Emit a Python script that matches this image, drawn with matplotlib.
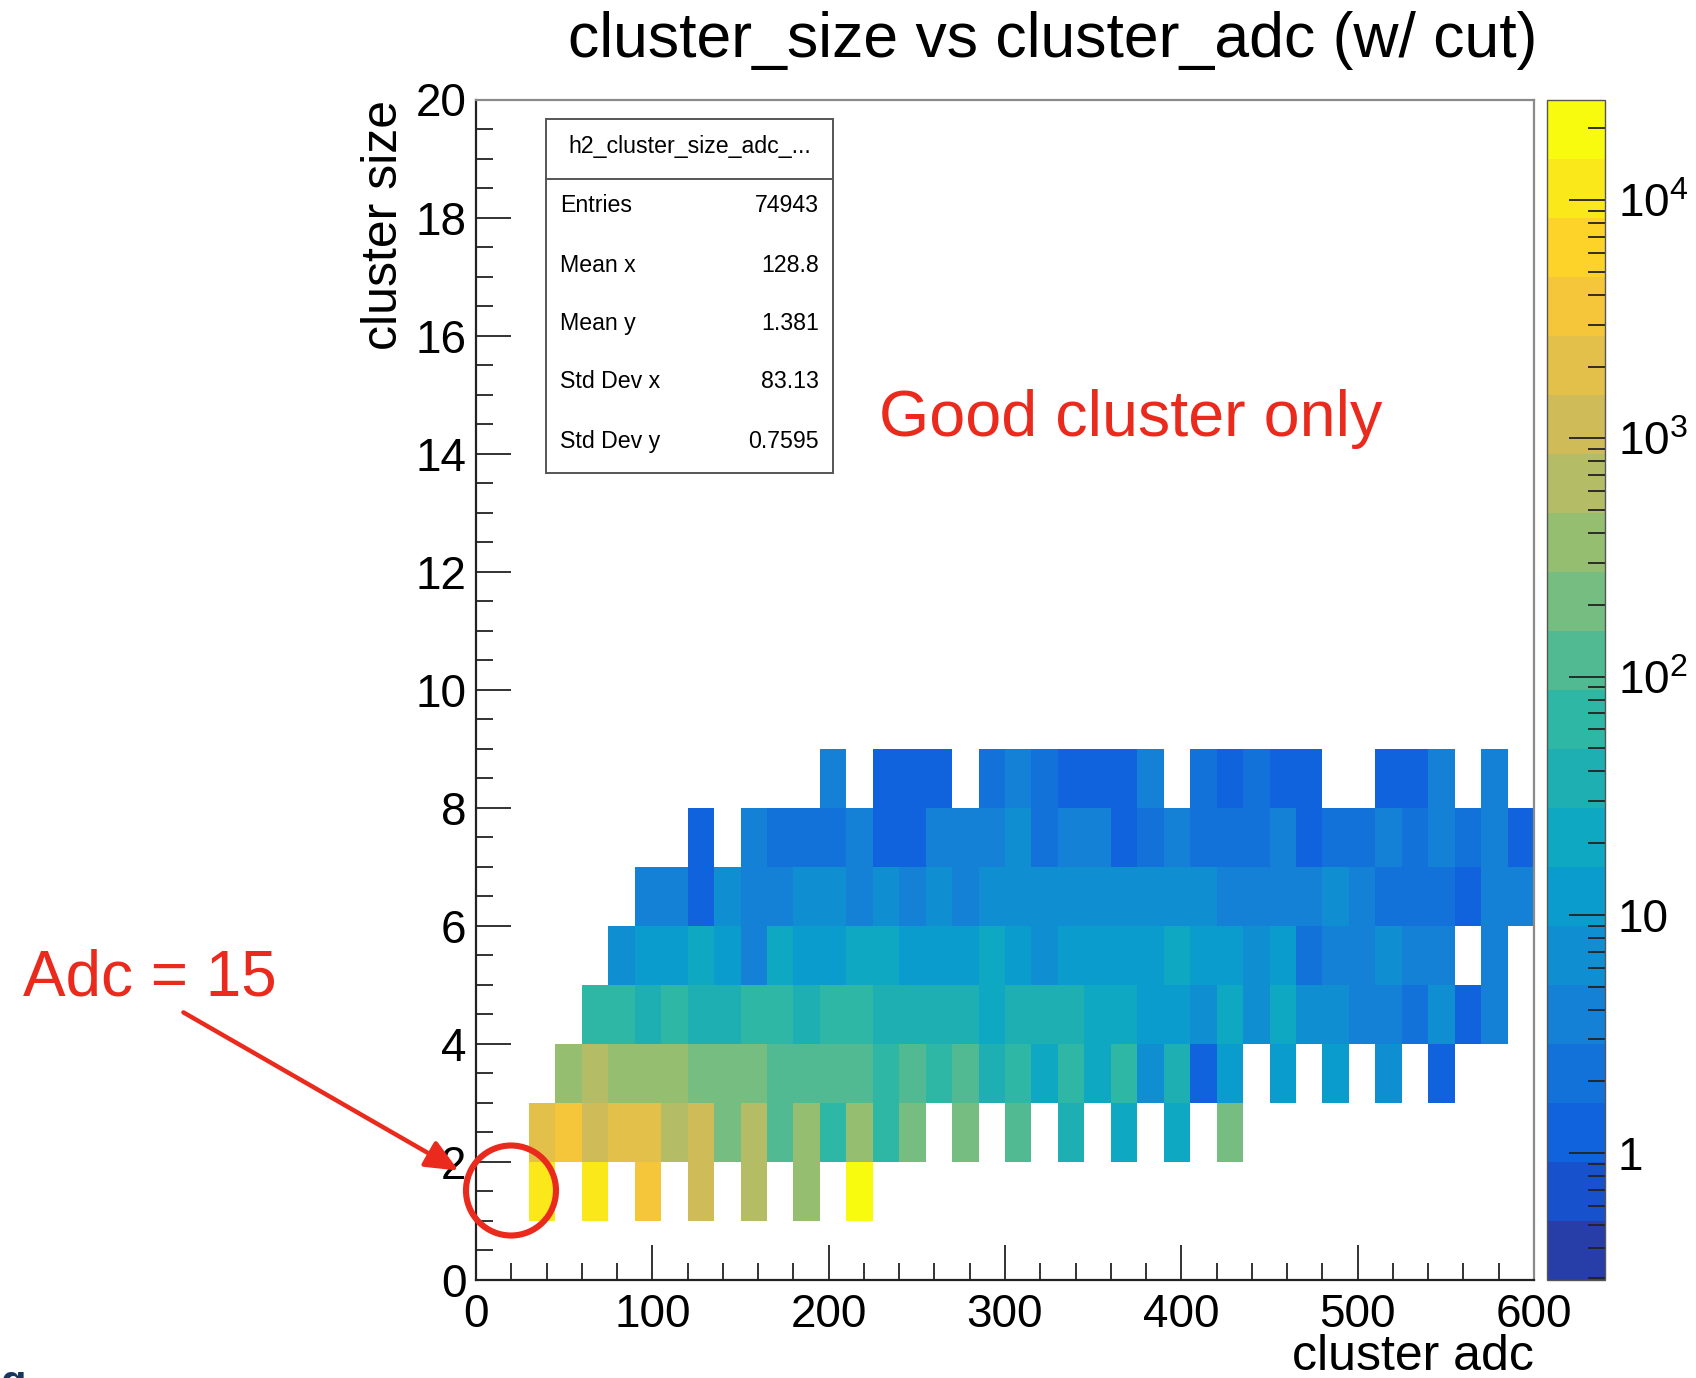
import numpy as np
import matplotlib
matplotlib.use("Agg")
import matplotlib.pyplot as plt
from matplotlib.colors import LinearSegmentedColormap, ListedColormap, LogNorm
from matplotlib.patches import Rectangle, Ellipse, FancyArrowPatch
from matplotlib.lines import Line2D
from matplotlib.ticker import MultipleLocator, LogLocator, NullFormatter

plt.rcParams['font.family'] = ['Liberation Sans', 'DejaVu Sans']
plt.rcParams['mathtext.fontset'] = 'custom'
plt.rcParams['mathtext.rm'] = 'Liberation Sans'

# binning: 40 adc bins of width 15, cluster size bins of width 1
adc_edges = np.arange(0, 601, 15)
size_edges = np.arange(0, 21, 1)

# bin contents per cluster size, 40 adc bins each
size1 = [0, 0, 12000, 0, 12000, 0, 4000, 0, 1200, 0, 700, 0, 400, 0, 22000, 0, 0, 0, 0, 0,
         0, 0, 0, 0, 0, 0, 0, 0, 0, 0, 0, 0, 0, 0, 0, 0, 0, 0, 0, 0]
size2 = [0, 0, 2200, 4000, 1200, 2200, 2200, 700, 1200, 220, 700, 120, 400, 70, 400, 70, 220, 0, 220, 0,
         120, 0, 40, 0, 22, 0, 22, 0, 220, 0, 0, 0, 0, 0, 0, 0, 0, 0, 0, 0]
size3 = [0, 0, 0, 400, 700, 400, 400, 400, 220, 220, 220, 120, 120, 120, 120, 70, 120, 70, 120, 40,
         70, 22, 70, 22, 70, 7, 40, 1, 12, 0, 12, 0, 12, 0, 7, 0, 1, 0, 0, 0]
size4 = [0, 0, 0, 0, 70, 70, 40, 70, 40, 40, 70, 70, 40, 70, 70, 40, 40, 40, 40, 22,
         40, 40, 40, 22, 22, 12, 12, 7, 22, 7, 22, 7, 7, 4, 4, 2, 7, 1, 4, 0]
size5 = [0, 0, 0, 0, 0, 7, 12, 12, 22, 12, 4, 22, 12, 12, 22, 22, 12, 12, 12, 22,
         12, 7, 12, 12, 12, 12, 22, 12, 12, 7, 12, 2, 4, 4, 7, 4, 4, 0, 4, 0]
size6 = [0, 0, 0, 0, 0, 0, 4, 4, 1, 7, 4, 4, 7, 7, 4, 7, 4, 7, 4, 7,
         7, 7, 7, 7, 7, 7, 7, 7, 4, 4, 4, 4, 7, 4, 2, 2, 2, 1, 4, 4]
size7 = [0, 0, 0, 0, 0, 0, 0, 0, 1, 0, 4, 2, 2, 2, 4, 1, 1, 4, 4, 4,
         7, 2, 4, 4, 1, 2, 4, 2, 2, 2, 4, 1, 2, 2, 4, 2, 4, 2, 4, 1]
size8 = [0, 0, 0, 0, 0, 0, 0, 0, 0, 0, 0, 0, 0, 4, 0, 1, 1, 1, 0, 2,
         4, 2, 1, 1, 1, 4, 0, 2, 1, 2, 1, 1, 0, 0, 1, 1, 4, 0, 4, 0]

stat_names = ['Entries', 'Mean x', 'Mean y', 'Std Dev x', 'Std Dev y']
stat_values = ['74943', '128.8', '1.381', '83.13', '0.7595']

z = np.zeros((len(size_edges) - 1, len(adc_edges) - 1))
for s, row in zip(range(1, 9), [size1, size2, size3, size4, size5, size6, size7, size8]):
    z[s] = row
z = np.ma.masked_equal(z, 0)

# ROOT kBird palette, 20 contour levels
bird_rgb = [(0.2082, 0.1664, 0.5293), (0.0592, 0.3599, 0.8684), (0.0780, 0.5041, 0.8385),
            (0.0232, 0.6419, 0.7914), (0.1802, 0.7178, 0.6425), (0.5301, 0.7492, 0.4662),
            (0.8186, 0.7328, 0.3499), (0.9956, 0.7862, 0.1968), (0.9764, 0.9832, 0.0539)]
bird = LinearSegmentedColormap.from_list('bird', list(zip(np.linspace(0, 1, 9), bird_rgb)))
ncont = 20
cmap = ListedColormap(bird((np.arange(ncont) + 0.99) / ncont))
norm = LogNorm(vmin=10 ** -0.531, vmax=10 ** 4.422)

W, H = 1696, 1378
fig = plt.figure(figsize=(W / 100, H / 100), dpi=100)
ax = fig.add_axes([476 / W, 1 - 1279.6 / H, (1534 - 476) / W, (1279.6 - 99.5) / H])

mesh = ax.pcolormesh(adc_edges, size_edges, z, cmap=cmap, norm=norm,
                     edgecolors='none', antialiased=False)

ax.set_xlim(0, 600)
ax.set_ylim(0, 20)
ax.xaxis.set_major_locator(MultipleLocator(100))
ax.xaxis.set_minor_locator(MultipleLocator(20))
ax.yaxis.set_major_locator(MultipleLocator(2))
ax.yaxis.set_minor_locator(MultipleLocator(0.5))
ax.tick_params(which='both', direction='in', top=False, right=False,
               labelsize=33, width=1.3, color='#222222')
ax.tick_params(which='major', length=25)
ax.tick_params(which='minor', length=12.5)
ax.tick_params(axis='x', pad=10)
ax.tick_params(axis='y', pad=7)
for side in ['left', 'bottom']:
    ax.spines[side].set_linewidth(1.6)
    ax.spines[side].set_color('#222222')
for side in ['top', 'right']:
    ax.spines[side].set_linewidth(1.6)
    ax.spines[side].set_color('#8a8a8a')

# colour bar
cax = fig.add_axes([1547 / W, 1 - 1279.6 / H, (1605 - 1547) / W, (1279.6 - 99.5) / H])
cb = fig.colorbar(mesh, cax=cax)
cb.outline.set_linewidth(1.0)
cb.outline.set_edgecolor('#555555')
cb.set_ticks([1, 10, 100, 1000, 10000],
             labels=['1', '10', r'$\mathregular{10^{2}}$', r'$\mathregular{10^{3}}$',
                     r'$\mathregular{10^{4}}$'])
cax.yaxis.set_minor_locator(LogLocator(base=10, subs=np.arange(2, 10)))
cax.yaxis.set_minor_formatter(NullFormatter())
cax.tick_params(which='both', direction='in', right=True, left=False,
                labelsize=33, width=1.3, color='#222222', pad=9)
cax.tick_params(which='major', length=26)
cax.tick_params(which='minor', length=12)

# titles
fig.text(1053 / W, 1 - 40 / H, 'cluster_size vs cluster_adc (w/ cut)',
         fontsize=45, ha='center', va='center')
fig.text(1534 / W, 1 - 1357 / H, 'cluster adc', fontsize=36, ha='right', va='center')
fig.text(384 / W, 1 - 100 / H, 'cluster size', fontsize=36, rotation=90,
         ha='center', va='top')

# stats box
bl, br, bt, bb = 546 / W, 833 / W, 1 - 119 / H, 1 - 473 / H
fig.add_artist(Rectangle((bl, bb), br - bl, bt - bb, transform=fig.transFigure,
                         facecolor='white', edgecolor='#555555', lw=1.4))
fig.add_artist(Line2D([bl, br], [1 - 178.5 / H] * 2, transform=fig.transFigure,
                      color='#555555', lw=1.4))
fig.text((bl + br) / 2, 1 - 147 / H, 'h2_cluster_size_adc_...', fontsize=16.7,
         ha='center', va='center')
row_y = [205.5, 265, 323.4, 381.8, 441.3]
for name, val, yy in zip(stat_names, stat_values, row_y):
    fig.text(560 / W, 1 - yy / H, name, fontsize=16.7, ha='left', va='center')
    fig.text(819 / W, 1 - yy / H, val, fontsize=16.7, ha='right', va='center')

# annotations
red = '#ea2a1c'
fig.text(1131 / W, 1 - 419 / H, 'Good cluster only', fontsize=46.5, color=red,
         ha='center', va='center')
fig.text(150 / W, 1 - 978 / H, 'Adc = 15', fontsize=46, color=red,
         ha='center', va='center')
fig.add_artist(FancyArrowPatch((181 / W, 1 - 1011 / H), (461 / W, 1 - 1172 / H),
                               transform=fig.transFigure,
                               arrowstyle='-|>,head_length=0.5,head_width=0.22',
                               mutation_scale=40, color=red, lw=3.2))
fig.add_artist(Ellipse((511 / W, 1 - 1190.5 / H), 90 / W, 90 / H,
                       transform=fig.transFigure, fill=False, edgecolor=red, lw=4.4))

# clipped glyph at the very bottom-left of the slide
fig.text(0.0, 1 - 1364 / H, 'g', fontsize=30, fontweight='bold', color='#17365d',
         ha='left', va='top')

fig.savefig('out.png', dpi=100)
